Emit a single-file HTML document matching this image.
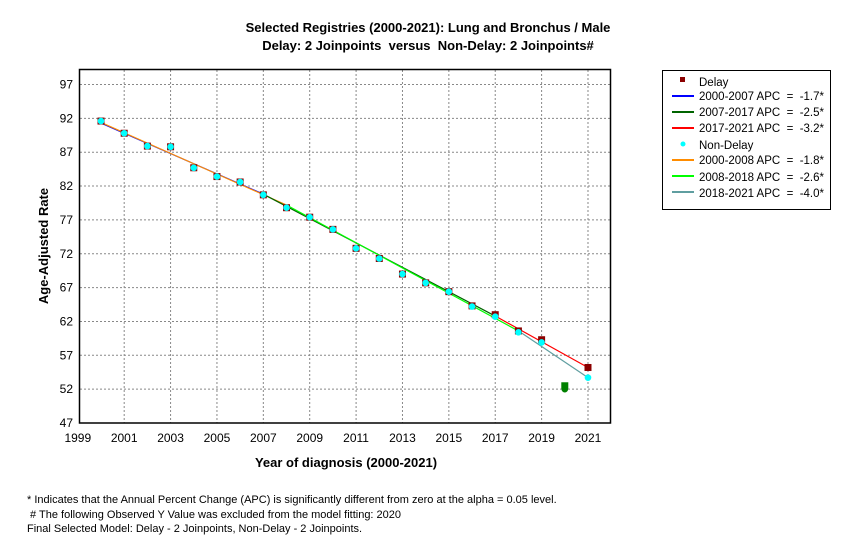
<!DOCTYPE html>
<html><head><meta charset="utf-8"><style>
body{margin:0;background:#fff;width:857px;height:554px;overflow:hidden;font-family:"Liberation Sans",sans-serif}
svg{display:block}
text{font-family:"Liberation Sans",sans-serif;white-space:pre}
</style></head><body>
<svg id="s" width="857" height="554" xmlns="http://www.w3.org/2000/svg" xml:space="preserve">
<text x="428" y="32" font-size="13" font-weight="bold" text-anchor="middle">Selected Registries (2000-2021): Lung and Bronchus / Male</text>
<text x="428" y="50" font-size="13" font-weight="bold" text-anchor="middle">Delay: 2 Joinpoints  versus  Non-Delay: 2 Joinpoints#</text>
<g id="grid"></g>
<rect x="79.5" y="69.5" width="531" height="353.5" fill="none" stroke="#000" stroke-width="1.5"/>
<g id="data"></g>
<text x="346" y="467" font-size="13" font-weight="bold" text-anchor="middle">Year of diagnosis (2000-2021)</text>
<text transform="translate(48,246) rotate(-90)" font-size="13" font-weight="bold" text-anchor="middle">Age-Adjusted Rate</text>
<rect x="662.5" y="70.5" width="168" height="139" fill="none" stroke="#000"/>
<g font-size="11.5">
<rect x="680" y="77" width="5" height="5" fill="#8b0000"/><text x="699" y="86">Delay</text>
<line x1="672" y1="96" x2="694" y2="96" stroke="#0000ff" stroke-width="2"/><text x="699" y="100">2000-2007 APC  =  -1.7*</text>
<line x1="672" y1="112" x2="694" y2="112" stroke="#006400" stroke-width="2"/><text x="699" y="116">2007-2017 APC  =  -2.5*</text>
<line x1="672" y1="128" x2="694" y2="128" stroke="#ff0000" stroke-width="2"/><text x="699" y="132">2017-2021 APC  =  -3.2*</text>
<circle cx="683" cy="144" r="2.5" fill="#00ffff"/><text x="699" y="149">Non-Delay</text>
<line x1="672" y1="160" x2="694" y2="160" stroke="#ff8c00" stroke-width="2"/><text x="699" y="164">2000-2008 APC  =  -1.8*</text>
<line x1="672" y1="176" x2="694" y2="176" stroke="#00ff00" stroke-width="2"/><text x="699" y="181">2008-2018 APC  =  -2.6*</text>
<line x1="672" y1="192" x2="694" y2="192" stroke="#5f9ea0" stroke-width="2"/><text x="699" y="197">2018-2021 APC  =  -4.0*</text>
</g>
<g font-size="11">
<text x="27" y="503">* Indicates that the Annual Percent Change (APC) is significantly different from zero at the alpha = 0.05 level.</text>
<text x="27" y="518"> # The following Observed Y Value was excluded from the model fitting: 2020</text>
<text x="27" y="532">Final Selected Model: Delay - 2 Joinpoints, Non-Delay - 2 Joinpoints.</text>
</g>
</svg>
<script>
var NS="http://www.w3.org/2000/svg";
function X(y){return 101+(y-2000)*23.19}
function Y(v){return 84.5+(97-v)*6.77}
function el(p,t,a,txt){var e=document.createElementNS(NS,t);for(var k in a)e.setAttribute(k,a[k]);if(txt!=null)e.textContent=txt;document.getElementById(p).appendChild(e);return e}
for(var v=47;v<=97;v+=5){var y=Y(v);if(v>47)el("grid","line",{x1:80,x2:610,y1:y,y2:y,stroke:"#888","stroke-dasharray":"2,2"});el("grid","text",{x:73,y:y+4,"font-size":"12","text-anchor":"end"},v)}
for(var yr=1999;yr<=2021;yr+=2){var x=X(yr);if(yr>1999)el("grid","line",{x1:x,x2:x,y1:70,y2:423,stroke:"#888","stroke-dasharray":"2,2"});el("grid","text",{x:x,y:442,"font-size":"12","text-anchor":"middle"},yr)}
function pl(c,pts){el("data","polyline",{points:pts.map(p=>X(p[0])+","+Y(p[1])).join(" "),fill:"none",stroke:c,"stroke-width":1.2})}
pl("#0000ff",[[2000,91.3],[2007,80.8]]);pl("#ff8c00",[[2000,91.4],[2008,79.2]]);
pl("#006400",[[2007,80.8],[2017,62.8]]);pl("#00ff00",[[2008,79.2],[2018,60.6]]);
pl("#ff0000",[[2017,62.8],[2021,55.2]]);pl("#5f9ea0",[[2018,60.6],[2021,53.7]]);
var d=[91.6,89.8,87.9,87.8,84.7,83.4,82.6,80.7,78.8,77.4,75.6,72.8,71.3,69.0,67.7,66.4,64.3,63.0,60.6,59.3,52.5,55.2];
var n=[91.6,89.8,87.9,87.8,84.7,83.4,82.6,80.7,78.8,77.4,75.6,72.8,71.3,69.0,67.7,66.4,64.2,62.7,60.4,58.9,52.0,53.7];
d.forEach(function(v,i){var yr=2000+i;el("data","rect",{x:X(yr)-3.5,y:Y(v)-3.5,width:7,height:7,fill:yr==2020?"#008000":"#8b0000"})});
n.forEach(function(v,i){var yr=2000+i;el("data","circle",{cx:X(yr),cy:Y(v),r:3.3,fill:yr==2020?"#008000":"#00ffff"})});
</script>
</body></html>
